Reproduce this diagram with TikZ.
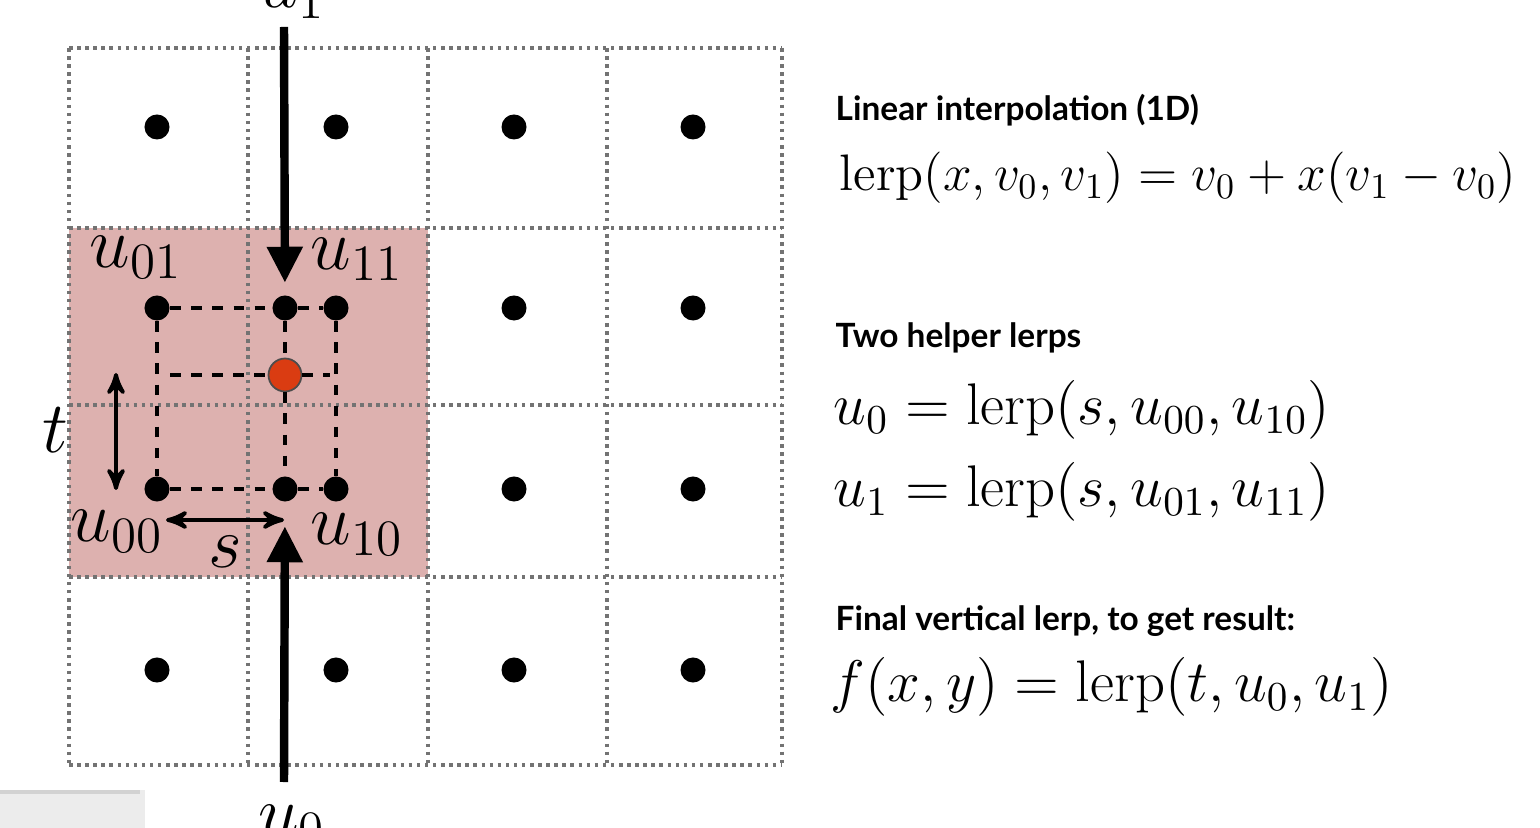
\RequirePackage{fix-cm}
\documentclass[tikz,border=0pt]{standalone}
\usepackage{amsmath}
\usepackage{fontspec}
\newfontfamily\headfont{Lato}
\usetikzlibrary{arrows,arrows.meta}

\definecolor{cellpink}{RGB}{221,177,175}
\definecolor{dotred}{RGB}{218,60,18}
\DeclareMathOperator{\lerp}{lerp}

\begin{document}
\begin{tikzpicture}[>=stealth', x=0.01cm, y=-0.01cm,
    gridline/.style={dash pattern=on 1pt off 1.3pt, line width=1.1pt, black!55},
    dot/.style={circle, inner sep=0pt, minimum size=0.25cm, fill=black},
    helper/.style={dashed, line width=0.9pt},
    bigarrow/.style={line width=2.4pt, -{Triangle[width=0.34cm,length=0.36cm]}},
    lbl/.style={font=\fontsize{20.7}{24}\selectfont},
    head/.style={anchor=west, inner sep=0pt, font=\headfont\bfseries\fontsize{9.5}{11}\selectfont},
    eqn/.style={anchor=west, inner sep=0pt, font=\fontsize{16.7}{20}\selectfont}]

  \useasboundingbox (0,0) rectangle (1540,828);

  % shaded block of four cells
  \fill[cellpink] (69,228) rectangle (428,577);

  % dotted grid
  \foreach \x in {69,248,428,607,782} \draw[gridline] (\x,48) -- (\x,765);
  \foreach \y in {48,228,405,577,765} \draw[gridline] (69,\y) -- (782,\y);

  % sample points
  \foreach \x/\i in {157/0,336/1,514/2,693/3}
    \foreach \y/\j in {127/3,308/2,489/1,670/0}
      \draw (\x,\y) node[dot] (p\i\j) {};

  % helper points and result
  \draw (285,308) node[dot] (a1) {};
  \draw (285,489) node[dot] (a0) {};
  \draw (285,375) node[circle, inner sep=0pt, minimum size=0.33cm, fill=dotred, draw=black!70, line width=0.5pt] (res) {};
  \coordinate (hl) at (170,375);
  \coordinate (hr) at (330,375);

  \draw[helper] (p02) -- (a1) -- (p12);
  \draw[helper] (p01) -- (a0) -- (p11);
  \draw[helper] (p02) -- (p01);
  \draw[helper] (p12) -- (p11);
  \draw[helper] (a1) -- (res) -- (a0);
  \draw[helper] (hl) -- (res) -- (hr);

  % u1 and u0 arrows
  \coordinate (top) at (284,27);
  \coordinate (bot) at (284,782);
  \draw[bigarrow, shorten >=0.12cm] (top) -- (a1);
  \draw[bigarrow, shorten >=0.24cm] (bot) -- (a0);
  \node[lbl, anchor=base] (lu1) at (292,8) {$u_1$};
  \node[lbl, anchor=base] (lu0) at (292,836) {$u_0$};

  % s and t
  \coordinate (tt) at (116,373);
  \coordinate (tb) at (116,490);
  \coordinate (sl) at (166,520);
  \coordinate (sr) at (284,520);
  \draw[<->, line width=1.1pt] (tt) -- (tb);
  \draw[<->, line width=1.1pt] (sl) -- (sr);
  \node[lbl] (lt) at (55,430) {$t$};
  \node[lbl] (ls) at (225,552) {$s$};

  \node[lbl] (l01) at (136,257) {$u_{01}$};
  \node[lbl] (l11) at (357,259) {$u_{11}$};
  \node[lbl] (l00) at (117,531) {$u_{00}$};
  \node[lbl] (l10) at (357,534) {$u_{10}$};

  % formulas
  \node[head] (h1) at (835,110) {Linear interpolation (1D)};
  \node[eqn, font=\fontsize{14.6}{18}\selectfont] (e1) at (839,178) {$\lerp(x,v_0,v_1)=v_0+x(v_1-v_0)$};
  \node[head] (h2) at (835,338) {Two helper lerps};
  \node[eqn] (e2) at (833,410) {$u_0=\lerp(s,u_{00},u_{10})$};
  \node[eqn] (e3) at (833,492) {$u_1=\lerp(s,u_{01},u_{11})$};
  \node[head] (h3) at (835,621) {Final vertical lerp, to get result:};
  \node[eqn] (e4) at (830,687) {$f(x,y)=\lerp(t,u_0,u_1)$};

  % corner of a photo
  \fill[gray!15] (0,790) rectangle (145,828);
  \draw[gray!35, line width=1pt] (0,792) -- (140,792);
\end{tikzpicture}
\end{document}
